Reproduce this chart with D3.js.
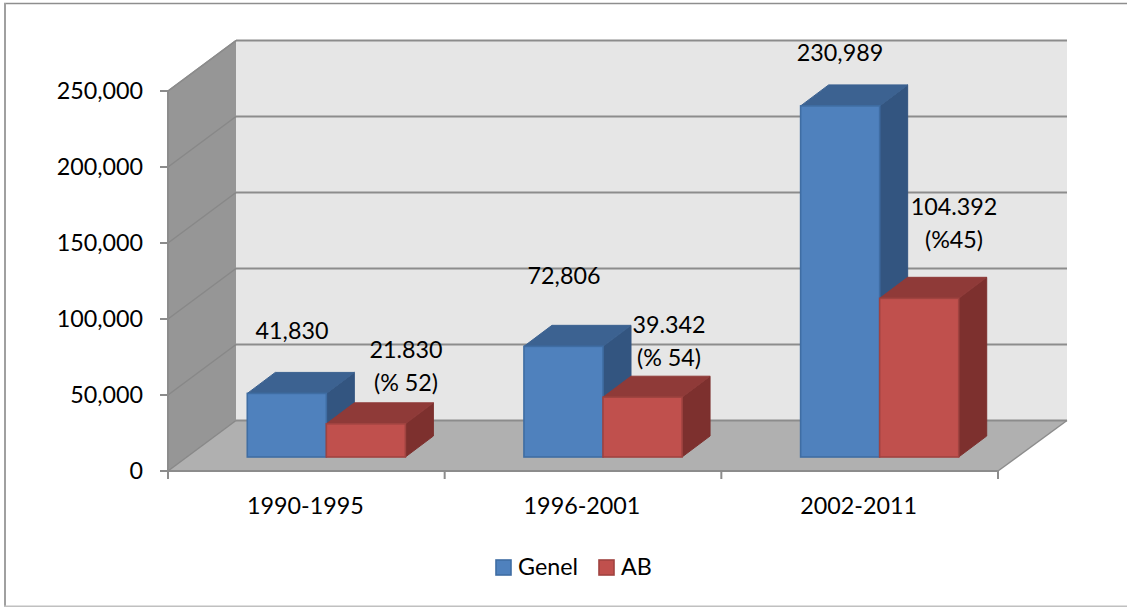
<!DOCTYPE html>
<html><head><meta charset="utf-8">
<script src="https://cdn.jsdelivr.net/npm/d3@7/dist/d3.min.js"></script>
<style>html,body{margin:0;padding:0;background:#fff}svg{display:block}text{font-family:Lato,"Open Sans",sans-serif;fill:#000}</style>
</head><body><svg id="c" width="1127" height="607"></svg>
<script>
const categories = ["1990-1995","1996-2001","2002-2011"];
const seriesNames = ["Genel","AB"];
const genel = [41830,72806,230989];
const ab = [21830,39342,104392];
const abLabels = [["21.830","(% 52)"],["39.342","(% 54)"],["104.392","(%45)"]];
const yTicks = [0,50000,100000,150000,200000,250000];

const svg = d3.select("#c");
const colors = {
  Genel:{front:"#4f81bd",top:"#3c6291",side:"#335580",stroke:"#3f6da3"},
  AB:{front:"#c0504d",top:"#8f3a38",side:"#7d302e",stroke:"#a04340"}
};
const M = {x0:168,x1:998,y0:471,y1:91,dx:68,dy:50.5};
const fs = 23.3;
const x0 = d3.scaleBand().domain(categories).range([M.x0,M.x1]);
const x1 = d3.scaleBand().domain(seriesNames).range([0,x0.bandwidth()]).paddingInner(0).paddingOuter(0.75);
const y = d3.scaleLinear().domain([0,250000]).range([M.y0,M.y1]);
const poly = p => p.map(a=>a.join(",")).join(" ");

// chart frame: top, left, bottom edges
svg.append("line").attr("x1",4).attr("x2",1127).attr("y1",3.5).attr("y2",3.5).attr("stroke","#8e8e8e").attr("stroke-width",1.5);
svg.append("line").attr("x1",5).attr("x2",5).attr("y1",3).attr("y2",606).attr("stroke","#a0a0a0").attr("stroke-width",2);
svg.append("line").attr("x1",4).attr("x2",1127).attr("y1",606.2).attr("y2",606.2).attr("stroke","#c0c0c0").attr("stroke-width",1.5);

// walls
svg.append("polygon").attr("points",poly([[M.x0+M.dx,y(250000)-M.dy],[M.x1+M.dx+1,y(250000)-M.dy],[M.x1+M.dx+1,y(0)-M.dy],[M.x0+M.dx,y(0)-M.dy]])).attr("fill","#e6e6e6");
svg.append("polygon").attr("points",poly([[M.x0,y(250000)],[M.x0+M.dx,y(250000)-M.dy],[M.x0+M.dx,y(0)-M.dy],[M.x0,y(0)]])).attr("fill","#969696");
svg.append("polygon").attr("points",poly([[M.x0,y(0)],[M.x0+M.dx,y(0)-M.dy],[M.x1+M.dx+1,y(0)-M.dy],[M.x1,y(0)]])).attr("fill","#b0b0b0");

// gridlines
yTicks.forEach(t=>{
  svg.append("line").attr("x1",M.x0).attr("y1",y(t)).attr("x2",M.x0+M.dx).attr("y2",y(t)-M.dy).attr("stroke","#888888").attr("stroke-width",1.5);
  svg.append("line").attr("x1",M.x0+M.dx).attr("y1",y(t)-M.dy).attr("x2",M.x1+M.dx+1).attr("y2",y(t)-M.dy).attr("stroke","#8c8c8c").attr("stroke-width",2);
});
// floor front-right edge
svg.append("line").attr("x1",M.x1).attr("y1",y(0)).attr("x2",M.x1+M.dx+1).attr("y2",y(0)-M.dy).attr("stroke","#8c8c8c").attr("stroke-width",1.5);
// right edge of the back wall at top
svg.append("line").attr("x1",M.x0).attr("y1",y(250000)).attr("x2",M.x0+M.dx).attr("y2",y(250000)-M.dy).attr("stroke","#8c8c8c").attr("stroke-width",1.5);

// axes
const ax = svg.append("g").attr("stroke","#8c8c8c").attr("stroke-width",2);
ax.append("line").attr("x1",M.x0).attr("x2",M.x0).attr("y1",y(250000)).attr("y2",y(0));
ax.append("line").attr("x1",M.x0).attr("x2",M.x1).attr("y1",y(0)).attr("y2",y(0));
yTicks.forEach(t=>ax.append("line").attr("x1",M.x0-8).attr("x2",M.x0).attr("y1",y(t)).attr("y2",y(t)));
[...categories.map(c=>x0(c)),M.x1].forEach(v=>ax.append("line").attr("x1",v).attr("x2",v).attr("y1",y(0)).attr("y2",y(0)+8));

svg.selectAll(".yl").data(yTicks).join("text").attr("class","yl")
  .attr("x",143).attr("y",d=>y(d)+8).attr("text-anchor","end").attr("font-size",fs)
  .text(d=>d3.format(",")(d));
svg.selectAll(".xl").data(categories).join("text").attr("class","xl")
  .attr("x",d=>x0(d)+x0.bandwidth()/2-1).attr("y",514).attr("text-anchor","middle").attr("font-size",fs).text(d=>d);

// bars
const fx=20, fy=14, bx=28, by=21;
const series = {Genel:genel,AB:ab};
categories.forEach((c,i)=>{
  seriesNames.forEach(s=>{
    const v=series[s][i], col=colors[s];
    const l=x0(c)+x1(s)+fx, r=l+x1.bandwidth(), b=y(0)-fy, t=y(v)-fy;
    const g=svg.append("g");
    g.append("polygon").attr("points",poly([[r,t],[r+bx,t-by],[r+bx,b-by],[r,b]])).attr("fill",col.side).attr("stroke",col.side);
    g.append("polygon").attr("points",poly([[l,t],[l+bx,t-by],[r+bx,t-by],[r,t]])).attr("fill",col.top).attr("stroke",col.top);
    g.append("rect").attr("x",l).attr("y",t).attr("width",r-l).attr("height",b-t).attr("fill",col.front).attr("stroke",col.stroke).attr("stroke-width",1.6);
  });
});

// data labels
const genelLabelPos = [[292,339],[564,284],[840,61]];
const abLabelPos = [[406,358],[669,333],[954,215]];
genel.forEach((v,i)=>svg.append("text").attr("x",genelLabelPos[i][0]).attr("y",genelLabelPos[i][1]).attr("text-anchor","middle").attr("font-size",fs).text(d3.format(",")(v)));
abLabels.forEach((ls,i)=>ls.forEach((t,k)=>svg.append("text").attr("x",abLabelPos[i][0]).attr("y",abLabelPos[i][1]+k*33).attr("text-anchor","middle").attr("font-size",fs).text(t)));

// legend
const legX=[[496,518],[599,621]];
seriesNames.forEach((s,i)=>{
  svg.append("rect").attr("x",legX[i][0]).attr("y",560).attr("width",15).attr("height",15).attr("fill",colors[s].front).attr("stroke",colors[s].stroke).attr("stroke-width",1.6);
  svg.append("text").attr("x",legX[i][1]).attr("y",575).attr("font-size",fs).text(s);
});
</script></body></html>
